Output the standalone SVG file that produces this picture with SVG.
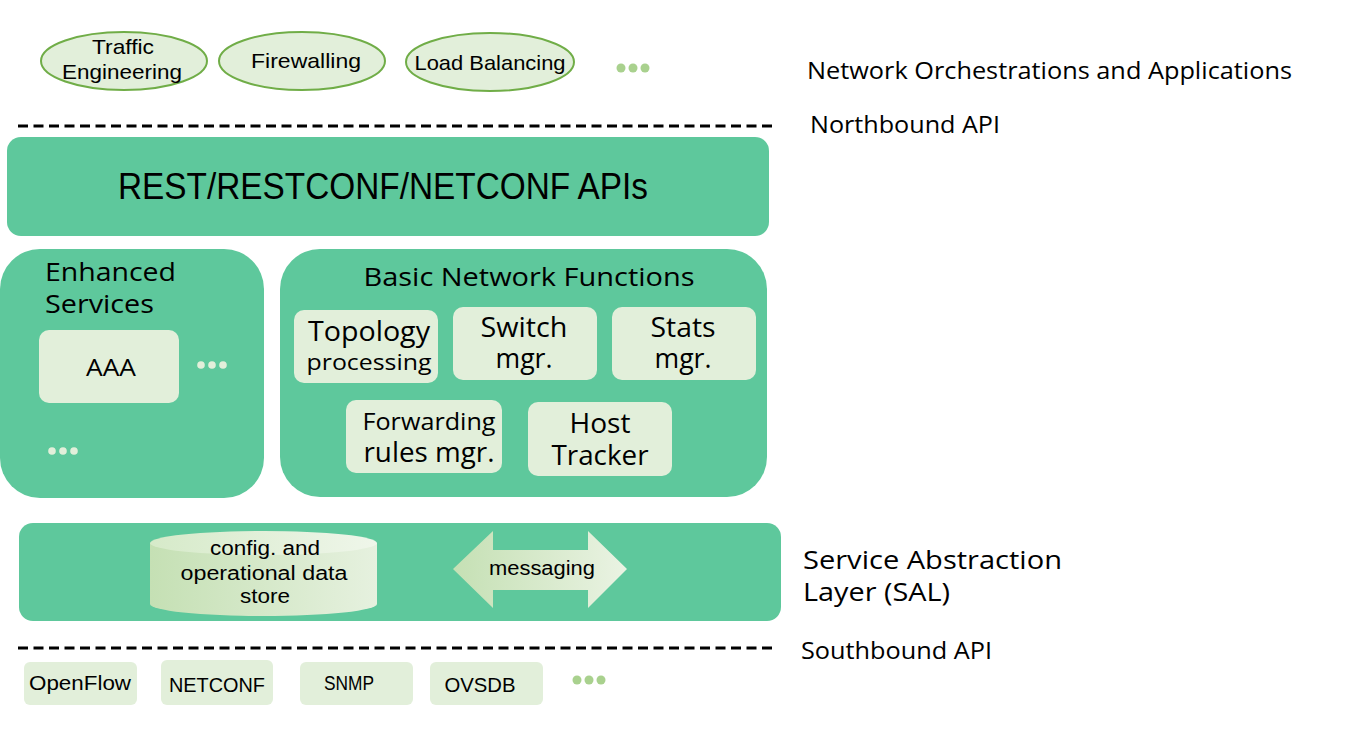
<svg xmlns="http://www.w3.org/2000/svg" width="1363" height="734" viewBox="0 0 1363 734">
<defs>
<style>
.bg{fill:#ffffff}
.main{fill:#5EC89C}
.light{fill:#E2EFDA}
.ell{fill:#E2EFDA;stroke:#70AD47;stroke-width:2}
.dash{stroke:#000;stroke-width:3;stroke-dasharray:10 5.5;fill:none}
.c{font-family:"Liberation Sans",Arial,sans-serif;fill:#000}
.s{font-family:"Open Sans","Noto Sans",sans-serif;fill:#000}
.gdot{fill:#A9D18E}
.ldot{fill:#E2EFDA}
</style>
<linearGradient id="cyl" x1="0" y1="0" x2="1" y2="0">
<stop offset="0" stop-color="#C5E0B4"/>
<stop offset="1" stop-color="#E6F1DF"/>
</linearGradient>
<linearGradient id="cyltop" x1="0" y1="0" x2="1" y2="0">
<stop offset="0" stop-color="#D6EAC9"/>
<stop offset="1" stop-color="#EFF6EA"/>
</linearGradient>
<linearGradient id="arr" x1="0" y1="0" x2="1" y2="0">
<stop offset="0" stop-color="#C5E0B4"/>
<stop offset="1" stop-color="#EAF3E3"/>
</linearGradient>
</defs>
<rect class="bg" x="0" y="0" width="1363" height="734"/>

<g id="apps">
<g id="traffic-engineering">
<ellipse class="ell" cx="124" cy="61" rx="83" ry="29"/>
<text class="c" font-size="21" text-anchor="middle"><tspan x="123" y="54" textLength="62" lengthAdjust="spacingAndGlyphs">Traffic</tspan><tspan x="122" y="79" textLength="120" lengthAdjust="spacingAndGlyphs">Engineering</tspan></text>
</g>
<g id="firewalling">
<ellipse class="ell" cx="302" cy="61" rx="83" ry="29"/>
<text class="c" x="306" y="68" font-size="21" text-anchor="middle" textLength="110" lengthAdjust="spacingAndGlyphs">Firewalling</text>
</g>
<g id="load-balancing">
<ellipse class="ell" cx="490" cy="62" rx="84" ry="29"/>
<text class="c" x="490" y="70" font-size="21" text-anchor="middle" textLength="151" lengthAdjust="spacingAndGlyphs">Load Balancing</text>
</g>
<g id="apps-more">
<circle class="gdot" cx="621" cy="68" r="4.5"/>
<circle class="gdot" cx="633" cy="68" r="4.5"/>
<circle class="gdot" cx="645" cy="68" r="4.5"/>
</g>
</g>

<g id="layer-labels">
<text class="s" x="807" y="79" font-size="23" textLength="485" lengthAdjust="spacingAndGlyphs">Network Orchestrations and Applications</text>
<text class="s" x="810" y="133" font-size="23" textLength="190" lengthAdjust="spacingAndGlyphs">Northbound API</text>
<text class="s" font-size="26"><tspan x="803" y="569" textLength="259" lengthAdjust="spacingAndGlyphs">Service Abstraction</tspan><tspan x="803" y="601" textLength="147" lengthAdjust="spacingAndGlyphs">Layer (SAL)</tspan></text>
<text class="s" x="801" y="659" font-size="23" textLength="191" lengthAdjust="spacingAndGlyphs">Southbound API</text>
</g>

<g id="connectors">
<line class="dash" x1="18" y1="126" x2="776" y2="126"/>
<line class="dash" x1="18" y1="648" x2="776" y2="648"/>
</g>

<g id="rest-apis">
<rect class="main" x="7" y="137" width="762" height="99" rx="14"/>
<text class="c" x="383" y="199" font-size="37" text-anchor="middle" textLength="530" lengthAdjust="spacingAndGlyphs">REST/RESTCONF/NETCONF APIs</text>
</g>

<g id="enhanced-services">
<rect class="main" x="0" y="249" width="264" height="249" rx="40"/>
<text class="s" font-size="26"><tspan x="45" y="281" textLength="131" lengthAdjust="spacingAndGlyphs">Enhanced</tspan><tspan x="45" y="313" textLength="109" lengthAdjust="spacingAndGlyphs">Services</tspan></text>
<g id="aaa">
<rect class="light" x="39" y="330" width="140" height="73" rx="10"/>
<text class="s" x="111" y="376" font-size="23" text-anchor="middle" textLength="50" lengthAdjust="spacingAndGlyphs">AAA</text>
</g>
<circle class="ldot" cx="201" cy="365" r="3.8"/>
<circle class="ldot" cx="212" cy="365" r="3.8"/>
<circle class="ldot" cx="223" cy="365" r="3.8"/>
<circle class="ldot" cx="52" cy="451" r="3.8"/>
<circle class="ldot" cx="63" cy="451" r="3.8"/>
<circle class="ldot" cx="74" cy="451" r="3.8"/>
</g>

<g id="basic-network-functions">
<rect class="main" x="280" y="249" width="487" height="248" rx="40"/>
<text class="s" x="529" y="286" font-size="26" text-anchor="middle" textLength="331" lengthAdjust="spacingAndGlyphs">Basic Network Functions</text>
<g id="topology">
<rect class="light" x="294" y="310" width="144" height="73" rx="10"/>
<text class="s" text-anchor="middle"><tspan x="369" y="341" font-size="27" textLength="122" lengthAdjust="spacingAndGlyphs">Topology</tspan><tspan x="369" y="370" font-size="22" textLength="125" lengthAdjust="spacingAndGlyphs">processing</tspan></text>
</g>
<g id="switch-mgr">
<rect class="light" x="453" y="307" width="144" height="73" rx="10"/>
<text class="s" font-size="27" text-anchor="middle"><tspan x="524" y="337" textLength="87" lengthAdjust="spacingAndGlyphs">Switch</tspan><tspan x="524" y="368" textLength="57" lengthAdjust="spacingAndGlyphs">mgr.</tspan></text>
</g>
<g id="stats-mgr">
<rect class="light" x="612" y="307" width="144" height="73" rx="10"/>
<text class="s" font-size="27" text-anchor="middle"><tspan x="683" y="337" textLength="65" lengthAdjust="spacingAndGlyphs">Stats</tspan><tspan x="683" y="368" textLength="57" lengthAdjust="spacingAndGlyphs">mgr.</tspan></text>
</g>
<g id="forwarding-rules-mgr">
<rect class="light" x="346" y="400" width="156" height="73" rx="10"/>
<text class="s" text-anchor="middle"><tspan x="429" y="430" font-size="24" textLength="133" lengthAdjust="spacingAndGlyphs">Forwarding</tspan><tspan x="429" y="462" font-size="27" textLength="131" lengthAdjust="spacingAndGlyphs">rules mgr.</tspan></text>
</g>
<g id="host-tracker">
<rect class="light" x="528" y="402" width="144" height="74" rx="10"/>
<text class="s" font-size="27" text-anchor="middle"><tspan x="600" y="433" textLength="61" lengthAdjust="spacingAndGlyphs">Host</tspan><tspan x="600" y="465" textLength="97" lengthAdjust="spacingAndGlyphs">Tracker</tspan></text>
</g>
</g>

<g id="sal">
<rect class="main" x="19" y="523" width="762" height="98" rx="14"/>
<g id="data-store">
<path d="M150,543 L150,604 A113.5,12 0 0 0 377,604 L377,543 Z" fill="url(#cyl)"/>
<ellipse cx="263.5" cy="543" rx="113.5" ry="12" fill="url(#cyltop)"/>
<text class="c" font-size="20" text-anchor="middle"><tspan x="265" y="555" textLength="110" lengthAdjust="spacingAndGlyphs">config. and</tspan><tspan x="264" y="580" textLength="167" lengthAdjust="spacingAndGlyphs">operational data</tspan><tspan x="265" y="603" textLength="50" lengthAdjust="spacingAndGlyphs">store</tspan></text>
</g>
<g id="messaging">
<polygon points="453,569 493,531 493,550 588,550 588,531 627,569 588,608 588,590 493,590 493,608" fill="url(#arr)"/>
<text class="c" x="542" y="575" font-size="20" text-anchor="middle" textLength="106" lengthAdjust="spacingAndGlyphs">messaging</text>
</g>
</g>

<g id="southbound">
<g id="openflow">
<rect class="light" x="24" y="662" width="113" height="43" rx="6"/>
<text class="c" x="80" y="690" font-size="21" text-anchor="middle" textLength="102" lengthAdjust="spacingAndGlyphs">OpenFlow</text>
</g>
<g id="netconf">
<rect class="light" x="161" y="660" width="112" height="45" rx="6"/>
<text class="c" x="217" y="692" font-size="21" text-anchor="middle" textLength="96" lengthAdjust="spacingAndGlyphs">NETCONF</text>
</g>
<g id="snmp">
<rect class="light" x="300" y="662" width="113" height="43" rx="6"/>
<text class="c" x="349" y="690" font-size="21" text-anchor="middle" textLength="50" lengthAdjust="spacingAndGlyphs">SNMP</text>
</g>
<g id="ovsdb">
<rect class="light" x="430" y="662" width="113" height="43" rx="6"/>
<text class="c" x="480" y="692" font-size="21" text-anchor="middle" textLength="71" lengthAdjust="spacingAndGlyphs">OVSDB</text>
</g>
<g id="southbound-more">
<circle class="gdot" cx="577" cy="680" r="4.5"/>
<circle class="gdot" cx="589" cy="680" r="4.5"/>
<circle class="gdot" cx="601" cy="680" r="4.5"/>
</g>
</g>
</svg>
